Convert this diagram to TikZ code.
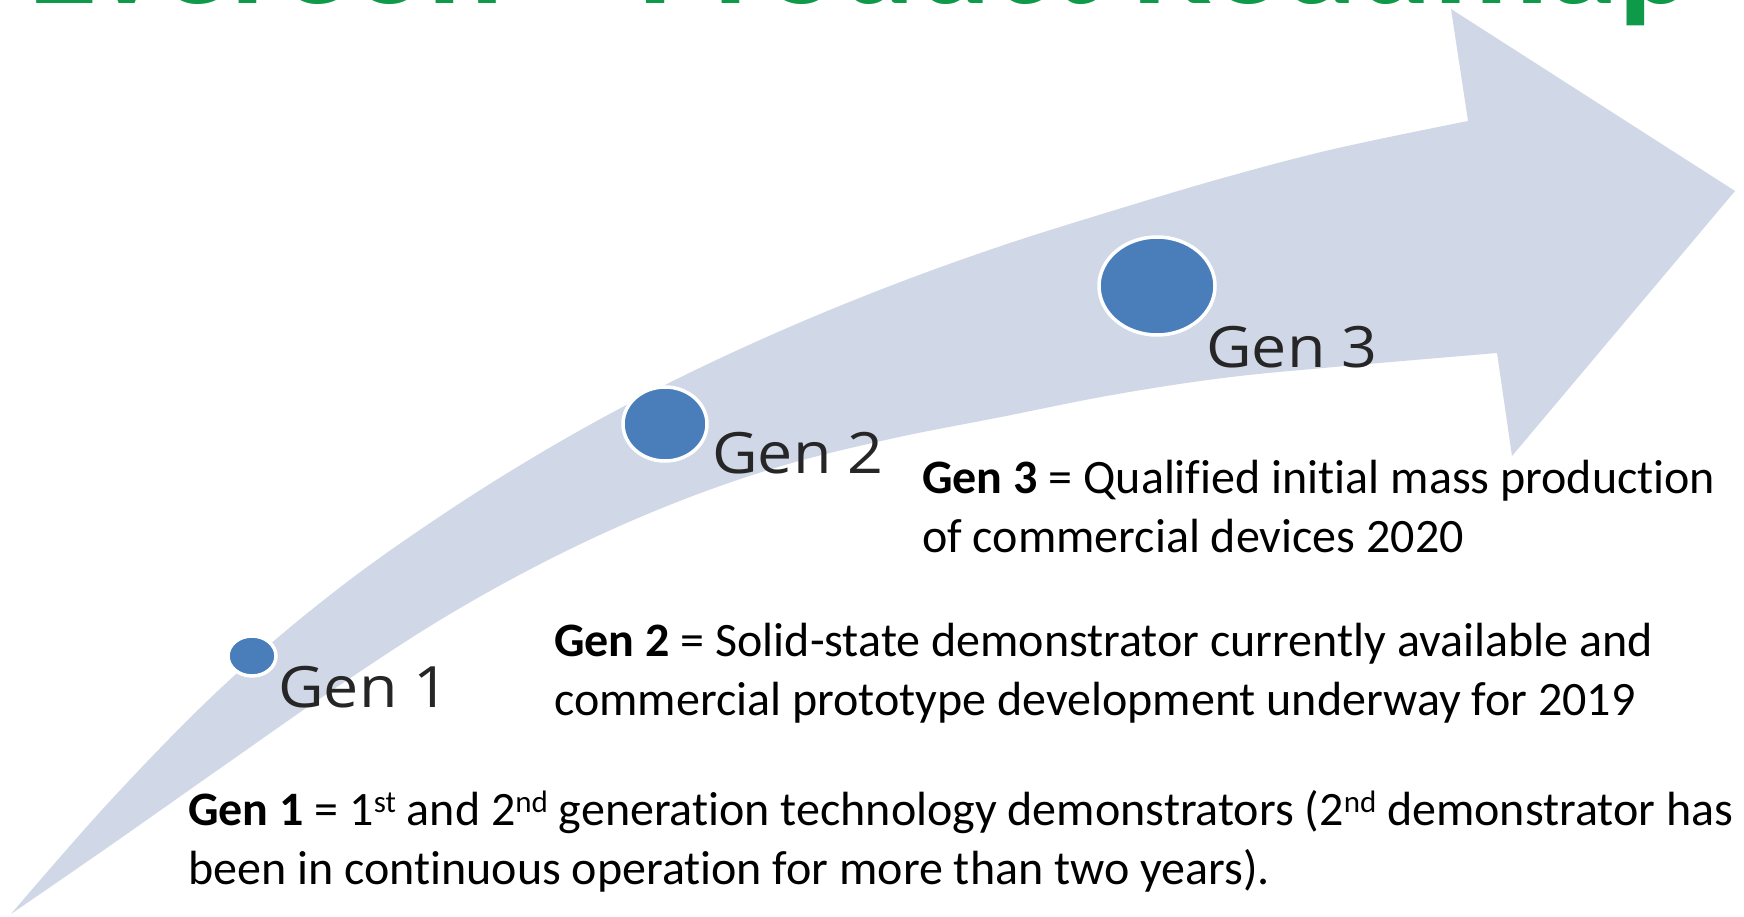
\documentclass[tikz,border=0pt]{standalone}
\usepackage{fontspec}
\setmainfont{Carlito}[Ligatures={NoCommon}]
\newfontfamily\labelfont{Open Sans}
\usetikzlibrary{shapes.geometric}
\definecolor{band}{RGB}{208,215,230}
\definecolor{dot}{RGB}{74,126,187}
\definecolor{titlegreen}{RGB}{14,154,72}
\definecolor{labelgray}{RGB}{38,38,38}
\newcommand\sups[1]{\raisebox{0.27em}{\fontsize{31}{31}\selectfont #1}}
\tikzset{
  bodytext/.style={anchor=base west, inner sep=0pt, font=\fontsize{48}{58}\selectfont, text=black},
  genlabel/.style={anchor=base west, inner sep=0pt, font=\labelfont\fontsize{57}{57}\selectfont, text=labelgray, xscale=1.1},
  gendot/.style={ellipse, fill=dot, draw=white, line width=3.5pt, inner sep=0pt},
}
\begin{document}
\begin{tikzpicture}[x=1pt,y=-1pt]
\useasboundingbox (0,0) rectangle (1744,917);
\fill[white] (0,0) rectangle (1744,917);
\begin{scope}
\clip (0,0) rectangle (1744,917);
\node[anchor=base west, inner sep=0pt, text=titlegreen, font=\fontsize{142}{142}\selectfont\bfseries] (title) at (28,4) {Evereon – Product Roadmap};
\end{scope}
% curved arrow
\fill[band] plot[smooth, tension=0.6] coordinates {(11,914) (111,800) (222,687) (334,592) (445,513) (556,444) (667,384) (778,332) (890,286) (1001,246) (1112,211) (1223,178) (1334,149) (1468,121)}
  -- (1451,9) -- (1735,191) -- (1512,456) -- (1497,353)
  -- plot[smooth, tension=0.6] coordinates {(1497,353) (1334,367) (1223,378) (1112,395) (1001,417) (890,439) (778,467) (667,506) (556,556) (445,617) (334,689) (222,767) (111,845) (11,914)} -- cycle;
% dots
\node[gendot, minimum width=48pt, minimum height=40pt] (d1) at (252,656) {};
\node[gendot, minimum width=84pt, minimum height=74pt] (d2) at (665,424) {};
\node[gendot, minimum width=116pt, minimum height=98pt] (d3) at (1157,286) {};
% gen labels
\node[genlabel] (l1) at (278,707) {Gen 1};
\node[genlabel] (l2) at (712,473) {Gen 2};
\node[genlabel] (l3) at (1206,367) {Gen 3};
% body text
\node[bodytext] (t3a) at (922,493) {\textbf{Gen 3} = Qualified initial mass production};
\node[bodytext] (t3b) at (922,552) {of commercial devices 2020};
\node[bodytext] (t2a) at (554,656) {\textbf{Gen 2} = Solid-state demonstrator currently available and};
\node[bodytext] (t2b) at (554,715) {commercial prototype development underway for 2019};
\node[bodytext] (t1a) at (188,825) {\textbf{Gen 1} = 1\sups{st} and 2\sups{nd} generation technology demonstrators (2\sups{nd} demonstrator has};
\node[bodytext] (t1b) at (188,884) {been in continuous operation for more than two years).};
\end{tikzpicture}
\end{document}
